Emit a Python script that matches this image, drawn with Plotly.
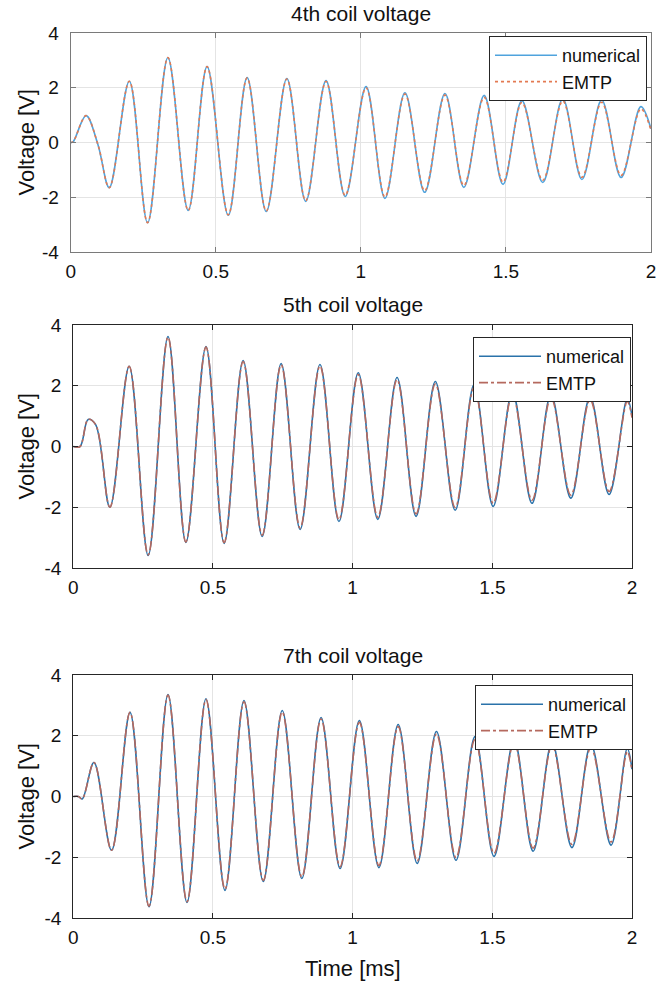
import plotly.graph_objects as go

# ---------------- data ----------------
t4 = [0, 0.008, 0.053, 0.094, 0.133, 0.202, 0.265, 0.335, 0.405, 0.470, 0.543, 0.608,
      0.674, 0.745, 0.810, 0.880, 0.946, 1.018, 1.083, 1.152, 1.220, 1.290, 1.355,
      1.425, 1.490, 1.555, 1.627, 1.696, 1.762, 1.830, 1.897, 1.965, 2.0]
v4_num = [0, 0.02, 0.98, -0.08, -1.65, 2.24, -2.93, 3.10, -2.48, 2.77, -2.66, 2.37,
          -2.52, 2.34, -2.15, 2.26, -1.97, 2.04, -2.04, 1.82, -1.82, 1.79, -1.64,
          1.72, -1.53, 1.53, -1.46, 1.60, -1.35, 1.55, -1.28, 1.31, 0.5]
v4_emtp = [0, 0.02, 0.98, -0.08, -1.65, 2.24, -2.93, 3.10, -2.48, 2.77, -2.64, 2.36,
           -2.50, 2.32, -2.12, 2.23, -1.93, 2.00, -1.99, 1.77, -1.76, 1.73, -1.57,
           1.65, -1.45, 1.46, -1.38, 1.52, -1.27, 1.47, -1.20, 1.23, 0.45]

t5 = [0, 0.024, 0.053, 0.080, 0.131, 0.200, 0.268, 0.339, 0.403, 0.475, 0.540, 0.608,
      0.676, 0.744, 0.812, 0.883, 0.951, 1.020, 1.090, 1.159, 1.227, 1.296, 1.367,
      1.435, 1.503, 1.572, 1.642, 1.710, 1.781, 1.850, 1.918, 1.983, 2.0]
v5_num = [0, 0.0, 0.89, 0.72, -2.00, 2.64, -3.59, 3.62, -3.16, 3.29, -3.19, 2.83,
          -2.96, 2.73, -2.73, 2.70, -2.47, 2.43, -2.40, 2.27, -2.30, 2.14, -2.10,
          2.04, -1.97, 1.80, -1.87, 1.71, -1.70, 1.64, -1.58, 1.58, 1.00]
v5_emtp = [0, 0.0, 0.89, 0.72, -2.00, 2.64, -3.57, 3.60, -3.14, 3.27, -3.16, 2.80,
           -2.92, 2.69, -2.68, 2.65, -2.41, 2.37, -2.33, 2.20, -2.22, 2.06, -2.01,
           1.95, -1.87, 1.71, -1.77, 1.61, -1.60, 1.54, -1.48, 1.48, 0.95]

t7 = [0, 0.018, 0.032, 0.074, 0.137, 0.203, 0.271, 0.339, 0.407, 0.475, 0.543, 0.611,
      0.680, 0.748, 0.818, 0.887, 0.955, 1.024, 1.094, 1.163, 1.231, 1.300, 1.370,
      1.438, 1.506, 1.578, 1.646, 1.714, 1.785, 1.853, 1.925, 1.983, 2.0]
v7_num = [0, 0.0, -0.08, 1.12, -1.77, 2.77, -3.63, 3.36, -3.49, 3.22, -3.09, 3.16,
          -2.80, 2.83, -2.70, 2.60, -2.37, 2.50, -2.34, 2.37, -2.20, 2.14, -2.10,
          1.97, -1.97, 1.87, -1.80, 1.78, -1.68, 1.71, -1.60, 1.58, 0.9]
v7_emtp = [0, 0.0, -0.08, 1.12, -1.77, 2.77, -3.61, 3.34, -3.46, 3.19, -3.05, 3.12,
           -2.76, 2.78, -2.65, 2.55, -2.31, 2.44, -2.27, 2.30, -2.12, 2.06, -2.01,
           1.88, -1.87, 1.78, -1.70, 1.68, -1.58, 1.61, -1.50, 1.48, 0.85]

titles = ["4th coil voltage", "5th coil voltage", "7th coil voltage"]
xticks = [0, 0.5, 1, 1.5, 2]
xticktext = ["0", "0.5", "1", "1.5", "2"]
yticks = [-4, -2, 0, 2, 4]
yticktext = ["-4", "-2", "0", "2", "4"]

# ---------------- styling ----------------
W, H = 667, 986
FONT = "Liberation Sans, Arial, Helvetica, sans-serif"
# panel boxes in pixels: (left, right, top, bottom)
boxes = [(70.7, 651, 33, 252), (73.3, 632, 325, 568), (73.3, 632, 675, 918)]
num_colors = ["#4FA3DD", "#2A72AA", "#2A72AA"]
emtp_colors = ["#E37A52", "#B5695E", "#B5695E"]
emtp_dash = ["dot", "dashdot", "dashdot"]
axis_colors = ["#7a7a7a", "#262626", "#262626"]
legend_boxes = [(488, 647, 36), (477, 631, 337), (476, 633, 685)]

series = [(t4, v4_num, v4_emtp), (t5, v5_num, v5_emtp), (t7, v7_num, v7_emtp)]

fig = go.Figure()
for i, (t, vn, ve) in enumerate(series):
    xa = "x" if i == 0 else f"x{i+1}"
    ya = "y" if i == 0 else f"y{i+1}"
    lg = "legend" if i == 0 else f"legend{i+1}"
    fig.add_trace(go.Scatter(x=t, y=vn, mode="lines", name="numerical",
                             line=dict(color=num_colors[i], width=1.6, shape="spline", smoothing=1.0),
                             xaxis=xa, yaxis=ya, legend=lg))
    fig.add_trace(go.Scatter(x=t, y=ve, mode="lines", name="EMTP",
                             line=dict(color=emtp_colors[i], width=1.6, dash=emtp_dash[i],
                                       shape="spline", smoothing=1.0),
                             xaxis=xa, yaxis=ya, legend=lg))

layout = dict(width=W, height=H, autosize=False,
              margin=dict(l=0, r=0, t=0, b=0, autoexpand=False),
              paper_bgcolor="white", plot_bgcolor="white",
              font=dict(family=FONT, size=19, color="#111111"))

annotations = []
for i, (l, r, tp, bt) in enumerate(boxes):
    sfx = "" if i == 0 else str(i + 1)
    axcommon = dict(showline=True, linecolor=axis_colors[i], linewidth=1.2, mirror="ticks",
                    ticks="inside", ticklen=5, tickcolor=axis_colors[i],
                    showgrid=True, gridcolor="#e4e4e4", gridwidth=1, zeroline=False,
                    automargin=False,
                    tickfont=dict(family=FONT, size=19, color="#111111"))
    layout["xaxis" + sfx] = dict(domain=[l / W, r / W], range=[0, 2], tickvals=xticks,
                                 ticktext=xticktext, anchor="y" + sfx, ticklabelstandoff=2,
                                 **axcommon)
    layout["yaxis" + sfx] = dict(domain=[1 - bt / H, 1 - tp / H], range=[-4, 4], tickvals=yticks,
                                 ticktext=yticktext, anchor="x" + sfx, ticklabelstandoff=7,
                                 **axcommon)
    lx0, lx1, ly0 = legend_boxes[i]
    layout["legend" + sfx] = dict(x=lx1 / W, xanchor="right", y=1 - ly0 / H, yanchor="top",
                                  bgcolor="white", bordercolor="#262626", borderwidth=1,
                                  font=dict(family=FONT, size=18, color="#111111"),
                                  itemwidth=62, tracegroupgap=0)
    annotations.append(dict(text=titles[i], xref="paper", yref="paper",
                            x=(l + r) / 2 / W, y=1 - (tp - 20) / H, xanchor="center", yanchor="middle",
                            showarrow=False, font=dict(family=FONT, size=21, color="#111111")))
    annotations.append(dict(text="Voltage [V]", xref="paper", yref="paper",
                            x=26 / W, y=1 - (tp + bt) / 2 / H, xanchor="center", yanchor="middle",
                            textangle=-90, showarrow=False,
                            font=dict(family=FONT, size=22, color="#111111")))

annotations.append(dict(text="Time [ms]", xref="paper", yref="paper",
                        x=(73.3 + 632) / 2 / W, y=1 - 968 / H, xanchor="center", yanchor="middle",
                        showarrow=False, font=dict(family=FONT, size=22, color="#111111")))
layout["annotations"] = annotations
layout["showlegend"] = True
fig.update_layout(**layout)

fig.write_html("out.html")
